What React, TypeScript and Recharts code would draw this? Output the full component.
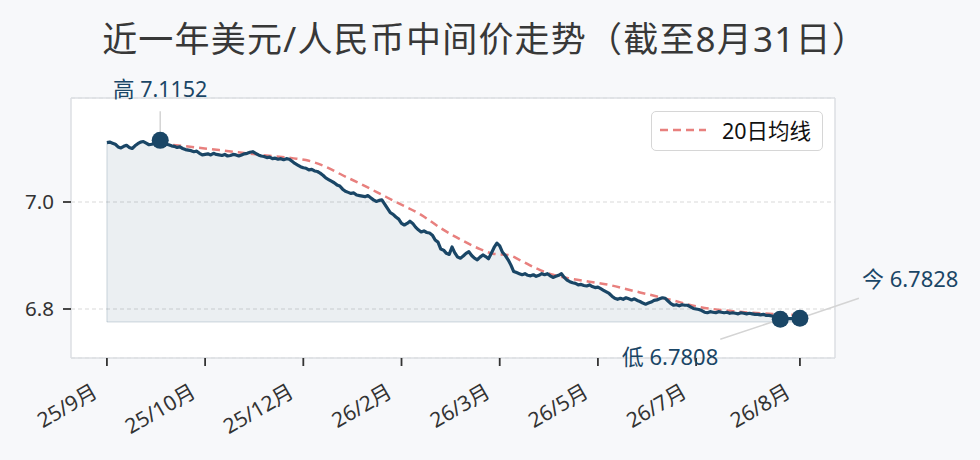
import React from 'react';
import {
  ComposedChart,
  Line,
  Area,
  XAxis,
  YAxis,
  CartesianGrid,
  ReferenceDot,
  ReferenceLine,
} from 'recharts';

const TITLE = '近一年美元/人民币中间价走势（截至8月31日）';

// daily central parity, index 0 = start of 25/9, last = 8/31
const rateValues = [
  7.111, 7.112, 7.110, 7.108, 7.103, 7.101, 7.104, 7.106, 7.102, 7.100,
  7.105, 7.109, 7.112, 7.113, 7.110, 7.107, 7.108, 7.110, 7.112, 7.1152,
  7.111, 7.108, 7.107, 7.105, 7.104, 7.102, 7.103, 7.100, 7.098, 7.097,
  7.096, 7.094, 7.095, 7.091, 7.088, 7.089, 7.090, 7.088, 7.091, 7.089,
  7.088, 7.087, 7.089, 7.086, 7.087, 7.089, 7.088, 7.086, 7.088, 7.090,
  7.091, 7.093, 7.094, 7.091, 7.088, 7.086, 7.085, 7.083, 7.084, 7.081,
  7.082, 7.080, 7.081, 7.079, 7.081, 7.080, 7.076, 7.072, 7.069, 7.066,
  7.064, 7.063, 7.060, 7.061, 7.058, 7.057, 7.054, 7.050, 7.045, 7.042,
  7.039, 7.036, 7.032, 7.030, 7.024, 7.020, 7.018, 7.016, 7.017, 7.013,
  7.012, 7.011, 7.010, 7.012, 7.008, 7.004, 7.001, 7.003, 7.004, 6.996,
  6.988, 6.980, 6.977, 6.972, 6.968, 6.960, 6.957, 6.960, 6.964, 6.960,
  6.953, 6.948, 6.944, 6.946, 6.943, 6.942, 6.938, 6.929, 6.925, 6.912,
  6.910, 6.904, 6.902, 6.916, 6.905, 6.897, 6.895, 6.899, 6.904, 6.907,
  6.900, 6.895, 6.892, 6.897, 6.901, 6.898, 6.894, 6.904, 6.915, 6.923,
  6.918, 6.906, 6.900, 6.892, 6.882, 6.870, 6.868, 6.866, 6.864, 6.866,
  6.863, 6.862, 6.864, 6.861, 6.863, 6.866, 6.864, 6.866, 6.862, 6.859,
  6.861, 6.863, 6.866, 6.859, 6.854, 6.851, 6.849, 6.848, 6.845, 6.846,
  6.844, 6.843, 6.845, 6.842, 6.840, 6.841, 6.838, 6.835, 6.832, 6.829,
  6.824, 6.820, 6.818, 6.820, 6.818, 6.821, 6.819, 6.817, 6.819, 6.816,
  6.814, 6.811, 6.809, 6.811, 6.813, 6.816, 6.817, 6.819, 6.821, 6.820,
  6.815, 6.810, 6.807, 6.808, 6.806, 6.808, 6.807, 6.807, 6.804, 6.801,
  6.800, 6.799, 6.797, 6.794, 6.793, 6.795, 6.794, 6.793, 6.795, 6.794,
  6.793, 6.794, 6.792, 6.793, 6.792, 6.791, 6.793, 6.792, 6.791, 6.792,
  6.791, 6.790, 6.790, 6.789, 6.790, 6.788, 6.788, 6.787, 6.786, 6.784,
  6.7808, 6.7815, 6.7818, 6.7822, 6.7820, 6.7825, 6.7826, 6.7828,
];

// 20-day moving average, read at sample indices
const maIndex = [19, 22, 40, 55, 66, 72, 78, 84, 90, 96, 103, 112, 119, 126, 133, 138, 143, 147, 153, 159, 165, 172, 179, 186, 194, 201, 211, 223, 233, 240, 247];
const maValues = [7.108, 7.107, 7.097, 7.088, 7.082, 7.077, 7.066, 7.050, 7.035, 7.019, 7.000, 6.976, 6.951, 6.930, 6.912, 6.903, 6.901, 6.892, 6.876, 6.864, 6.857, 6.851, 6.845, 6.836, 6.826, 6.817, 6.804, 6.796, 6.792, 6.790, 6.789];

const xTickIdx = [0, 35, 70, 105, 140, 175, 210, 247];
const xTickLabels = ['25/9月', '25/10月', '25/12月', '26/2月', '26/3月', '26/5月', '26/7月', '26/8月'];
const yTicks = [6.8, 7.0];

const markIdx = [19, 240, 247];
const markValues = [7.1152, 6.7808, 6.7828];
const markNames = ['高', '低', '今'];

const FILL_BASE = 6.7758;
const X_DOMAIN: [number, number] = [-12.8, 259.5];
const Y_DOMAIN: [number, number] = [6.7084, 7.1944];

const FONT = '"Noto Sans", "Noto Sans CJK SC", sans-serif';
const NAVY = '#1a4666';
const MA_RED = '#e8807e';
const SPINE = '#dcdfe3';

const data = rateValues.map((v, i) => {
  const k = maIndex.indexOf(i);
  return { i, v, ma: k >= 0 ? maValues[k] : null };
});

function XTick(props: any) {
  const { x, y, payload } = props;
  const label = xTickLabels[xTickIdx.indexOf(payload.value)];
  return (
    <g transform={`translate(${x - 8},${y + 28})`}>
      <text textAnchor="end" transform="rotate(-30)" fontSize={21} fill="#333" fontFamily={FONT}>
        {label}
      </text>
    </g>
  );
}

const markLabel = (k: number) => `${markNames[k]} ${markValues[k].toFixed(4)}`;

function HighMark(props: any) {
  const { cx, cy } = props;
  return (
    <g>
      <line x1={cx} y1={cy - 29} x2={cx} y2={cy} stroke="#d4d4d4" strokeWidth={1.5} />
      <circle cx={cx} cy={cy} r={8.5} fill={NAVY} />
      <text x={cx} y={cy - 43} textAnchor="middle" fontSize={21.5} fill={NAVY} fontFamily={FONT}>
        {markLabel(0)}
      </text>
    </g>
  );
}

function LowMark(props: any) {
  const { cx, cy } = props;
  return (
    <g>
      <line x1={cx - 60} y1={cy + 20} x2={cx} y2={cy} stroke="#d4d4d4" strokeWidth={1.5} />
      <circle cx={cx} cy={cy} r={8.5} fill={NAVY} />
      <text x={cx - 62} y={cy + 46} textAnchor="end" fontSize={22} fill={NAVY} fontFamily={FONT}>
        {markLabel(1)}
      </text>
    </g>
  );
}

function NowMark(props: any) {
  const { cx, cy } = props;
  return (
    <g>
      <line x1={cx + 59} y1={cy - 20} x2={cx} y2={cy} stroke="#d4d4d4" strokeWidth={1.5} />
      <circle cx={cx} cy={cy} r={8.5} fill={NAVY} />
      <text x={cx + 62} y={cy - 31} textAnchor="start" fontSize={22} fill={NAVY} fontFamily={FONT}>
        {markLabel(2)}
      </text>
    </g>
  );
}

export default function App() {
  const last = rateValues.length - 1;
  return (
    <div
      style={{
        position: 'absolute',
        left: 0,
        top: 0,
        width: 980,
        height: 460,
        background: '#f7f8fa',
        overflow: 'hidden',
        fontFamily: FONT,
      }}
    >
      <div
        style={{
          position: 'absolute',
          left: 0,
          top: 20,
          width: 970,
          textAlign: 'center',
          fontSize: 35,
          letterSpacing: 1.2,
          lineHeight: '38px',
          color: '#383838',
          whiteSpace: 'nowrap',
        }}
      >
        {TITLE}
      </div>
      <div style={{ position: 'absolute', left: 0, top: 0 }}>
        <ComposedChart
          width={980}
          height={460}
          data={data}
          margin={{ top: 93, right: 140, bottom: 42, left: 21 }}
        >
          <CartesianGrid
            xAxisId="bottom"
            yAxisId="left"
            horizontal
            vertical={false}
            stroke="#d9d9d9"
            strokeWidth={1.2}
            strokeDasharray="4 3"
            fill="#ffffff"
          />
          <XAxis
            xAxisId="bottom"
            dataKey="i"
            type="number"
            domain={X_DOMAIN}
            allowDataOverflow
            ticks={xTickIdx}
            interval={0}
            tick={<XTick />}
            tickSize={8}
            tickLine={{ stroke: '#333', strokeWidth: 1.8 }}
            axisLine={{ stroke: SPINE, strokeWidth: 1.5 }}
            height={60}
          />
          <XAxis
            xAxisId="top"
            orientation="top"
            dataKey="i"
            type="number"
            domain={X_DOMAIN}
            allowDataOverflow
            tick={false}
            tickLine={false}
            axisLine={{ stroke: SPINE, strokeWidth: 1.5 }}
            height={5}
          />
          <YAxis
            yAxisId="left"
            type="number"
            domain={Y_DOMAIN}
            allowDataOverflow
            ticks={yTicks}
            interval={0}
            tickFormatter={(v: number) => v.toFixed(1)}
            tickSize={8}
            tickMargin={9}
            tick={{ fill: '#333', fontSize: 20.5, fontFamily: FONT }}
            tickLine={{ stroke: '#333', strokeWidth: 1.8 }}
            axisLine={{ stroke: SPINE, strokeWidth: 1.5 }}
            width={50}
          />
          <YAxis
            yAxisId="right"
            orientation="right"
            type="number"
            domain={Y_DOMAIN}
            allowDataOverflow
            tick={false}
            tickLine={false}
            axisLine={{ stroke: SPINE, strokeWidth: 1.5 }}
            width={5}
          />
          <Area
            xAxisId="bottom"
            yAxisId="left"
            type="linear"
            dataKey="v"
            baseValue={FILL_BASE}
            stroke="none"
            fill={NAVY}
            fillOpacity={0.085}
            isAnimationActive={false}
          />
          <ReferenceLine
            xAxisId="bottom"
            yAxisId="left"
            segment={[{ x: 0, y: FILL_BASE }, { x: last, y: FILL_BASE }]}
            stroke={NAVY}
            strokeOpacity={0.13}
            strokeWidth={1.5}
          />
          <ReferenceLine
            xAxisId="bottom"
            yAxisId="left"
            segment={[{ x: 0, y: FILL_BASE }, { x: 0, y: rateValues[0] }]}
            stroke={NAVY}
            strokeOpacity={0.13}
            strokeWidth={1.5}
          />
          <Line
            xAxisId="bottom"
            yAxisId="left"
            type="monotone"
            dataKey="ma"
            connectNulls
            stroke={MA_RED}
            strokeWidth={2.5}
            strokeDasharray="8 5"
            dot={false}
            isAnimationActive={false}
          />
          <Line
            xAxisId="bottom"
            yAxisId="left"
            type="linear"
            dataKey="v"
            stroke={NAVY}
            strokeWidth={3.2}
            strokeLinejoin="round"
            dot={false}
            isAnimationActive={false}
          />
          <ReferenceDot xAxisId="bottom" yAxisId="left" x={markIdx[0]} y={markValues[0]} r={8.5} shape={(p: any) => <HighMark {...p} />} />
          <ReferenceDot xAxisId="bottom" yAxisId="left" x={markIdx[1]} y={markValues[1]} r={8.5} shape={(p: any) => <LowMark {...p} />} />
          <ReferenceDot xAxisId="bottom" yAxisId="left" x={markIdx[2]} y={markValues[2]} r={8.5} shape={(p: any) => <NowMark {...p} />} />
        </ComposedChart>
      </div>
      <div
        style={{
          position: 'absolute',
          left: 651,
          top: 111,
          width: 172,
          height: 40,
          boxSizing: 'border-box',
          border: '1.5px solid #d6d6d6',
          borderRadius: 5,
          background: 'rgba(255,255,255,0.85)',
        }}
      >
        <svg width={50} height={10} style={{ position: 'absolute', left: 8, top: 13 }}>
          <line x1={0} y1={5} x2={46} y2={5} stroke={MA_RED} strokeWidth={2.5} strokeDasharray="8 5" />
        </svg>
        <div
          style={{
            position: 'absolute',
            left: 70,
            top: 0,
            height: 37,
            lineHeight: '37px',
            fontSize: 21.5,
            color: '#111',
            whiteSpace: 'nowrap',
          }}
        >
          20日均线
        </div>
      </div>
    </div>
  );
}
